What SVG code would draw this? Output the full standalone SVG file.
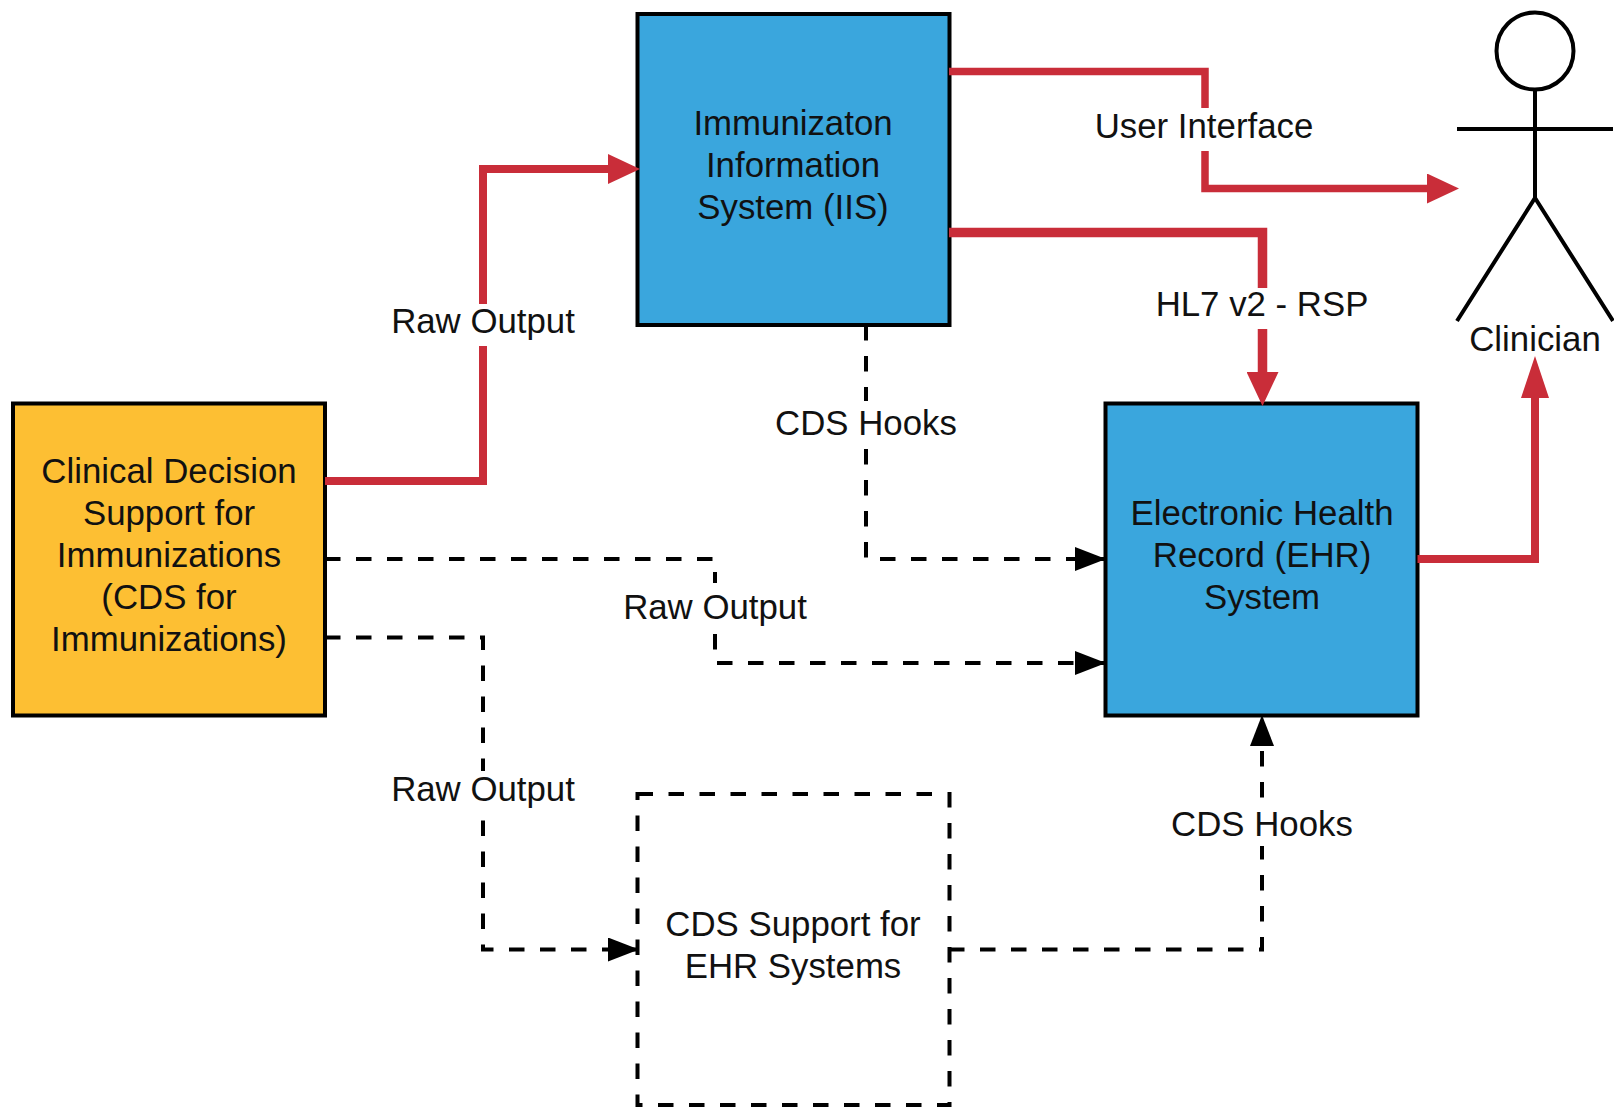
<svg xmlns="http://www.w3.org/2000/svg" width="1614" height="1109" viewBox="0 0 1614 1109">
<style>
text{font-family:"Liberation Sans",Arial,sans-serif;font-size:34.800px;fill:#111;text-anchor:middle}
.box{stroke:#000;stroke-width:4}
.red{fill:none;stroke:#c92d39;stroke-width:8}
.dash{fill:none;stroke:#000;stroke-width:4;stroke-dasharray:15.5 15.5}
.lbl{fill:#fff;stroke:none}
.fig{fill:none;stroke:#000;stroke-width:4}
</style>
<defs>
<marker id="ar" markerUnits="userSpaceOnUse" viewBox="0 0 32 30" refX="12" refY="15" markerWidth="32" markerHeight="30" orient="auto"><path d="M0 0L32 15L0 30Z" fill="#c92d39"/></marker>
<marker id="arw" markerUnits="userSpaceOnUse" viewBox="0 0 34 32" refX="14" refY="16" markerWidth="34" markerHeight="32" orient="auto"><path d="M0 0L34 16L0 32Z" fill="#c92d39"/></marker>
<marker id="arl" markerUnits="userSpaceOnUse" viewBox="0 0 42 28" refX="22" refY="14" markerWidth="42" markerHeight="28" orient="auto"><path d="M0 0L42 14L0 28Z" fill="#c92d39"/></marker>
<marker id="ab" markerUnits="userSpaceOnUse" viewBox="0 0 31 24" refX="31" refY="12" markerWidth="31" markerHeight="24" orient="auto"><path d="M0 0L31 12L0 24Z" fill="#000"/></marker>
</defs>
<g id="node-iis"><rect class="box" x="637.500" y="14" width="312" height="311" fill="#3aa6dd"/>
<text x="793" y="134.500">Immunizaton</text><text x="793" y="176.500">Information</text><text x="793" y="218.500">System (IIS)</text></g>
<g id="node-cds"><rect class="box" x="13" y="403.500" width="312" height="312" fill="#fdbf33"/>
<text x="169" y="482.500">Clinical Decision</text><text x="169" y="524.500">Support for</text><text x="169" y="566.500">Immunizations</text><text x="169" y="608.500">(CDS for</text><text x="169" y="650.500">Immunizations)</text></g>
<g id="node-ehr"><rect class="box" x="1105.500" y="403.500" width="312" height="312" fill="#3aa6dd"/>
<text x="1262" y="524.500">Electronic Health</text><text x="1262" y="566.500">Record (EHR)</text><text x="1262" y="608.500">System</text></g>
<g id="node-support"><rect class="box" x="637.500" y="794" width="312" height="311" fill="#fff" stroke-dasharray="15.5 15.500"/>
<text x="793" y="935.500">CDS Support for</text><text x="793" y="977.500">EHR Systems</text></g>
<g id="node-clinician"><ellipse class="fig" cx="1535" cy="51" rx="38.500" ry="38.500"/>
<path class="fig" d="M1535 90V198M1457 129H1613M1457 321L1535 198L1613 321"/>
<text x="1535" y="350.500">Clinician</text></g>
<g id="connectors">
<path class="red" d="M325 481H483V169H620" marker-end="url(#ar)"/>
<path class="red" style="stroke-width:7.500" d="M949 71.500H1205V188.500H1439" marker-end="url(#ar)"/>
<path class="red" style="stroke-width:9.500" d="M949 232.500H1262.500V386" marker-end="url(#arw)"/>
<path class="red" d="M1417.500 559H1535V376" marker-end="url(#arl)"/>
<path class="dash" d="M866 325V559H1106" marker-end="url(#ab)"/>
<path class="dash" d="M325 559H715V663H1106" marker-end="url(#ab)"/>
<path class="dash" d="M325 637.500H483V949.500H639" marker-end="url(#ab)"/>
<path class="dash" d="M949 949.500H1262V715" marker-end="url(#ab)"/>
</g>
<g id="connector-labels">
<rect class="lbl" x="1090" y="108" width="230" height="43"/><text x="1204" y="137.500">User Interface</text>
<rect class="lbl" x="1150" y="288" width="224" height="41"/><text x="1262" y="315.500">HL7 v2 - RSP</text>
<rect class="lbl" x="385" y="304" width="196" height="42"/><text x="483" y="332.500">Raw Output</text>
<rect class="lbl" x="770" y="401" width="192" height="45"/><text x="866" y="434.500">CDS Hooks</text>
<rect class="lbl" x="617" y="583" width="196" height="47"/><text x="715" y="618.500">Raw Output</text>
<rect class="lbl" x="385" y="771" width="196" height="47"/><text x="483" y="800.500">Raw Output</text>
<rect class="lbl" x="1166" y="801" width="192" height="45"/><text x="1262" y="835.500">CDS Hooks</text>
</g>
</svg>
